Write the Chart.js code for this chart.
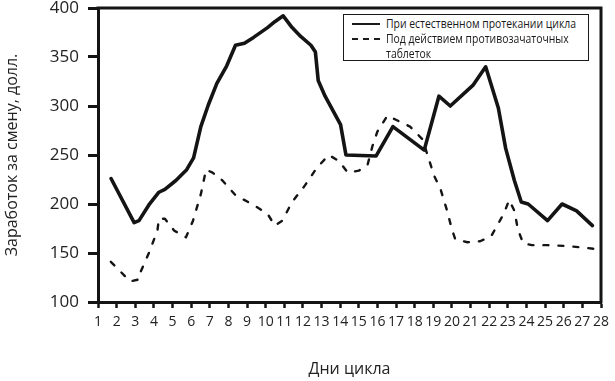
<!DOCTYPE html>
<html lang="ru">
<head>
<meta charset="utf-8">
<script src="https://cdn.jsdelivr.net/npm/chart.js@4.4.1/dist/chart.umd.min.js"></script>
<style>
  html, body { margin: 0; padding: 0; background: #fff; }
  #wrap { position: relative; width: 615px; height: 381px; }
  #legend {
    position: absolute; left: 343px; top: 14px; width: 244px; height: 45px;
    border: 1.5px solid #1a1a1a; background: #fff;
    font-family: "Open Sans", "DejaVu Sans", sans-serif;
    font-size: 13px; color: #1a1a1a; line-height: 15px;
  }
  .row { position: absolute; left: 0; }
  .sample { position: absolute; left: 8px; width: 28px; top: 7px; height: 0; }
  .txt { position: absolute; left: 42px; top: 0; white-space: nowrap; transform-origin: 0 0; }
</style>
</head>
<body>
<div id="wrap">
  <canvas id="c" width="615" height="381"></canvas>
  <div id="legend">
    <div class="row" style="top:1px"><div class="sample" style="border-top:2.5px solid #1a1a1a"></div><div class="txt" id="t1"></div></div>
    <div class="row" style="top:16px"><div class="sample" style="border-top:2.5px dashed #1a1a1a"></div><div class="txt" id="t2"></div></div>
  </div>
</div>
<script>
// Earnings per shift (USD) by day of the menstrual cycle
const naturalDays = [1.7, 2.94, 3.2, 3.73, 4.27, 4.59, 5.18, 5.76, 6.13, 6.29, 6.52, 6.92, 7.38, 7.91, 8.38, 8.86, 9.35, 10.1, 10.49, 10.94, 11.42, 11.88, 12.43, 12.67, 12.82, 13.19, 14.02, 14.31, 15.93, 16.83, 18.51, 19.3, 19.91, 21.12, 21.81, 22.49, 22.88, 23.35, 23.72, 24.09, 25.13, 25.91, 26.69, 27.54];
const naturalEarnings = [226, 181, 183, 199, 212, 215, 224, 235, 247, 260, 279, 301, 323, 341, 362, 364, 370, 380, 386, 392, 380, 371, 362, 355, 326, 310, 281, 250, 249, 279, 255, 310, 300, 321, 340, 298, 257, 224, 202, 200, 183, 200, 193, 178];

const pillDays = [1.69, 2.73, 3.2, 3.27, 3.73, 4.19, 4.27, 4.59, 5.08, 5.72, 6.1, 6.52, 6.8, 7.15, 7.68, 8.38, 9.35, 10.1, 10.49, 10.89, 11.42, 12.11, 12.75, 13.39, 13.92, 14.41, 15.0, 15.47, 15.73, 16.0, 16.53, 16.99, 17.75, 18.42, 18.77, 19.04, 19.39, 19.74, 20.0, 20.18, 20.83, 21.51, 22.1, 22.78, 23.07, 23.35, 23.54, 23.82, 24.28, 25.13, 26.25, 27.79];
const pillEarnings = [141, 121, 123, 130, 150, 173, 185, 185, 173, 166, 183, 210, 235, 232, 224, 209, 199, 190, 178, 183, 202, 219, 237, 250, 244, 232, 234, 240, 259, 274, 290, 286, 279, 266, 245, 229, 215, 193, 174, 164, 161, 162, 167, 190, 204, 193, 174, 160, 158, 158, 157, 154];

const dayRange = [1, 28];
const earningsRange = [100, 400];
const earningsStep = 50;

const seriesNames = ['При естественном протекании цикла', 'Под действием противозачаточных таблеток'];
const legendLines = [['При естественном протекании цикла'], ['Под действием противозачаточных', 'таблеток']];
const xTitle = 'Дни цикла';
const yTitle = 'Заработок за смену, долл.';

// legend text (real DOM text), condensed horizontally like the reference
const t1 = document.getElementById('t1');
const t2 = document.getElementById('t2');
t1.textContent = legendLines[0][0];
t2.innerHTML = '';
legendLines[1].forEach((s, i) => { if (i) t2.appendChild(document.createElement('br')); t2.appendChild(document.createTextNode(s)); });
const targetW = 190;
const w1 = t1.getBoundingClientRect().width || targetW;
const sx = Math.min(1, targetW / w1);
t1.style.transform = 'scaleX(' + sx + ')';
t2.style.transform = 'scaleX(' + sx + ')';

const toPoints = (xs, ys) => xs.map((x, i) => ({ x, y: ys[i] }));

const INK = '#141414';
const tickFont = "'Open Sans', 'DejaVu Sans', sans-serif";

const framePlugin = {
  id: 'frame',
  afterDatasetsDraw(chart) {
    const { ctx, chartArea: a } = chart;
    ctx.save();
    ctx.strokeStyle = INK;
    ctx.lineWidth = 3;
    ctx.lineCap = 'square';
    ctx.beginPath();
    ctx.moveTo(a.left, a.top);
    ctx.lineTo(a.right, a.top);
    ctx.lineTo(a.right, a.bottom);
    ctx.stroke();
    ctx.restore();
  }
};

new Chart(document.getElementById('c'), {
  type: 'line',
  data: {
    datasets: [
      {
        label: seriesNames[0],
        data: toPoints(naturalDays, naturalEarnings),
        borderColor: INK, borderWidth: 3.6, pointRadius: 0, tension: 0,
        borderCapStyle: 'round', borderJoinStyle: 'round', fill: false
      },
      {
        label: seriesNames[1],
        data: toPoints(pillDays, pillEarnings),
        borderColor: INK, borderWidth: 2.4, pointRadius: 0, tension: 0,
        borderDash: [5, 10], borderCapStyle: 'round', borderJoinStyle: 'round', fill: false
      }
    ]
  },
  options: {
    responsive: false,
    animation: false,
    devicePixelRatio: 1,
    layout: { padding: { top: 8, right: 14, left: 0, bottom: 0 } },
    plugins: { legend: { display: false }, tooltip: { enabled: false } },
    scales: {
      x: {
        type: 'linear', min: dayRange[0], max: dayRange[1],
        ticks: { stepSize: 1, autoSkip: false, maxRotation: 0, color: '#222', padding: 6,
                 font: { family: tickFont, size: 14 } },
        grid: { drawOnChartArea: false, drawTicks: true, tickLength: 6, tickWidth: 2.5, tickColor: INK, color: INK },
        border: { display: true, color: INK, width: 3 },
        title: { display: true, text: xTitle, color: '#222', padding: { top: 0, bottom: 2 },
                 font: { family: tickFont, size: 16 } },
        afterFit(s) { s.height = 79; s.paddingLeft = 0; s.paddingRight = 0; }
      },
      y: {
        min: earningsRange[0], max: earningsRange[1],
        ticks: { stepSize: earningsStep, color: '#222', padding: 9,
                 font: { family: tickFont, size: 17 } },
        grid: { drawOnChartArea: false, drawTicks: true, tickLength: 10, tickWidth: 3, tickColor: INK, color: INK },
        border: { display: true, color: INK, width: 3 },
        title: { display: true, text: yTitle, color: '#222', padding: { top: 3, bottom: 0 },
                 font: { family: tickFont, size: 16 } },
        afterFit(s) { s.width = 98; s.paddingTop = 0; s.paddingBottom = 0; }
      }
    }
  },
  plugins: [framePlugin]
});
</script>
</body>
</html>
